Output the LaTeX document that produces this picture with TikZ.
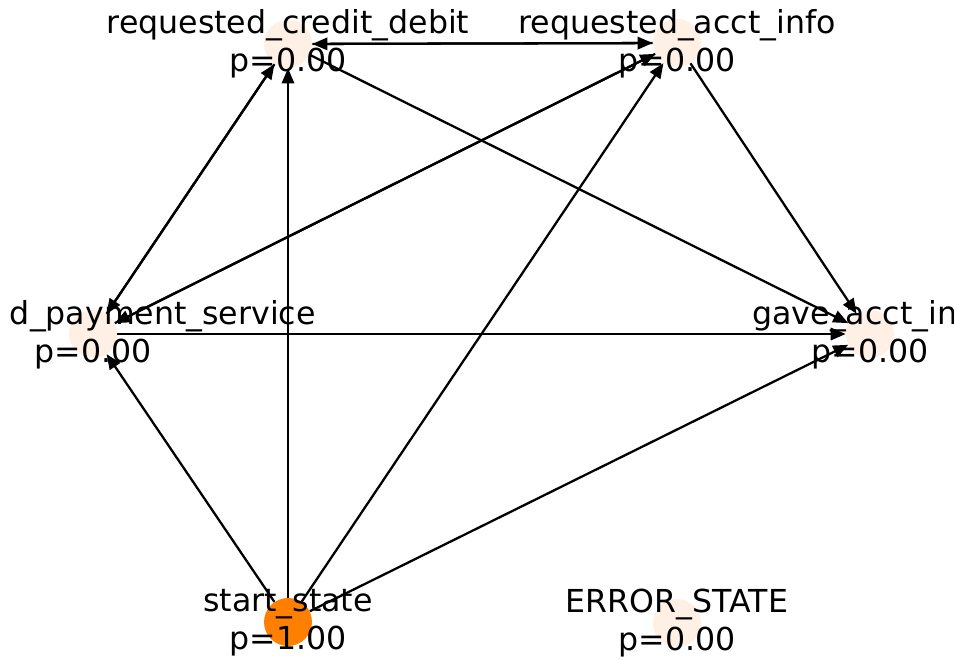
\documentclass[tikz,border=0pt]{standalone}
\usepackage{fontspec}
\setmainfont{DejaVu Sans}
\usetikzlibrary{arrows.meta}
\definecolor{pale}{HTML}{FEF0E4}
\definecolor{hot}{HTML}{FF8000}
\tikzset{
  state/.style={circle,fill=pale,inner sep=0pt,minimum size=0.96cm},
  lab/.style={align=center,inner sep=0pt,font=\fontsize{18}{21.8}\selectfont},
  edge/.style={-{Triangle[length=8.5pt,width=7pt]},line width=1.3pt}
}
\begin{document}
\begin{tikzpicture}[x=0.02cm,y=-0.02cm]
\path[use as bounding box] (0,0) rectangle (956,659);
\fill[white] (0,0) rectangle (956,659);
\clip (8,0) rectangle (953,659);
% states
\node[state] (cd) at (288,44) {};
\node[state] (ai) at (677,43) {};
\node[state] (ps) at (93,334) {};
\node[state] (ga) at (870,334) {};
\node[state,fill=hot] (st) at (288,622) {};
\node[state] (er) at (677,623) {};
% transitions
\draw[edge] (cd) -- (ai);
\draw[edge] (ai) -- (cd);
\draw[edge] (cd) -- (ga);
\draw[edge] (cd) -- (ps);
\draw[edge] (ps) -- (cd);
\draw[edge] (ai) -- (ga);
\draw[edge] (ai) -- (ps);
\draw[edge] (ps) -- (ai);
\draw[edge] (ps) -- (ga);
\draw[edge] (st) -- (ps);
\draw[edge] (st) -- (cd);
\draw[edge] (st) -- (ai);
\draw[edge] (st) -- (ga);
% labels
\node[lab] (cdl) at (288,44) {requested\_credit\_debit\\p=0.00};
\node[lab] (ail) at (677,44) {requested\_acct\_info\\p=0.00};
\node[lab] (psl) at (93,335) {requested\_payment\_service\\p=0.00};
\node[lab] (gal) at (870,335) {gave\_acct\_info\\p=0.00};
\node[lab] (stl) at (288,623) {start\_state\\p=1.00};
\node[lab] (erl) at (677,623) {ERROR\_STATE\\p=0.00};
\end{tikzpicture}
\end{document}
